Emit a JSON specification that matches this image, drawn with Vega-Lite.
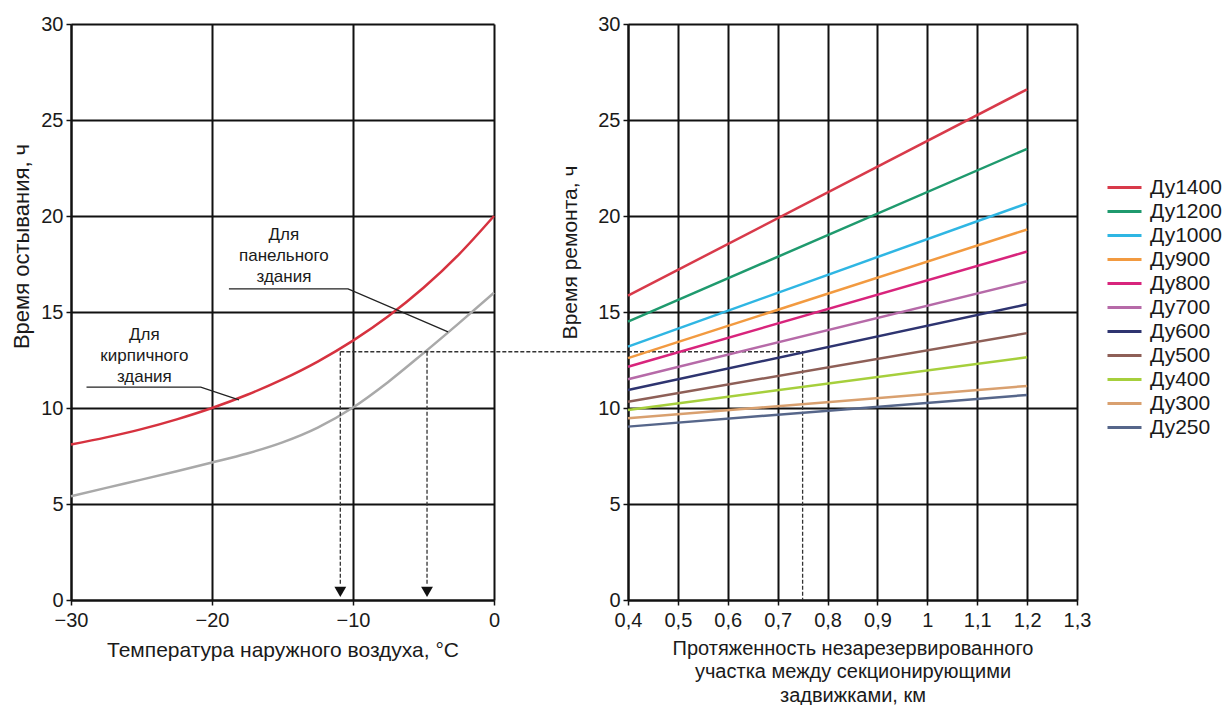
{
  "$schema": "https://vega.github.io/schema/vega-lite/v6.json",
  "background": "white",
  "padding": {"left": 10, "top": 14, "right": 0, "bottom": 0},
  "bounds": "flush",
  "spacing": 134,
  "datasets": {
    "curves": [
      {"t": -30, "h": 8.1, "b": "brick"}, {"t": -27.5, "h": 8.47, "b": "brick"}, {"t": -25, "h": 8.9, "b": "brick"},
      {"t": -22.5, "h": 9.41, "b": "brick"}, {"t": -20, "h": 10.0, "b": "brick"}, {"t": -17.5, "h": 10.69, "b": "brick"},
      {"t": -15, "h": 11.49, "b": "brick"}, {"t": -12.5, "h": 12.42, "b": "brick"}, {"t": -10, "h": 13.51, "b": "brick"},
      {"t": -7.5, "h": 14.78, "b": "brick"}, {"t": -5, "h": 16.26, "b": "brick"}, {"t": -2.5, "h": 17.99, "b": "brick"},
      {"t": 0, "h": 20.0, "b": "brick"},
      {"t": -30, "h": 5.4, "b": "panel"}, {"t": -27.5, "h": 5.84, "b": "panel"}, {"t": -25, "h": 6.27, "b": "panel"},
      {"t": -22.5, "h": 6.71, "b": "panel"}, {"t": -20, "h": 7.16, "b": "panel"}, {"t": -17.5, "h": 7.63, "b": "panel"},
      {"t": -15, "h": 8.21, "b": "panel"}, {"t": -12.5, "h": 8.98, "b": "panel"}, {"t": -10, "h": 10.03, "b": "panel"},
      {"t": -7.5, "h": 11.36, "b": "panel"}, {"t": -5, "h": 12.86, "b": "panel"}, {"t": -2.5, "h": 14.41, "b": "panel"},
      {"t": 0, "h": 16.0, "b": "panel"}
    ],
    "leaders": [
      {"t": -18.8, "h": 16.2, "g": "panel", "o": 1}, {"t": -10.35, "h": 16.2, "g": "panel", "o": 2}, {"t": -3.26, "h": 13.96, "g": "panel", "o": 3},
      {"t": -28.9, "h": 11.09, "g": "brick", "o": 1}, {"t": -20.8, "h": 11.09, "g": "brick", "o": 2}, {"t": -18.09, "h": 10.42, "g": "brick", "o": 3}
    ],
    "notes": [
      {"t": -14.9, "h": 19.0, "label": "Для\nпанельного\nздания"},
      {"t": -24.8, "h": 13.8, "label": "Для\nкирпичного\nздания"}
    ],
    "dashL": [
      {"x": -10.9, "x2": 9.5, "y": 12.93, "y2": 12.93},
      {"x": -10.9, "x2": -10.9, "y": 12.93, "y2": 0.8},
      {"x": -4.75, "x2": -4.75, "y": 12.93, "y2": 0.8}
    ],
    "arrows": [{"x": -10.9, "y": 0.42}, {"x": -4.75, "y": 0.42}],
    "dashR": [
      {"x": 0.4, "x2": 0.75, "y": 12.93, "y2": 12.93},
      {"x": 0.75, "x2": 0.75, "y": 12.93, "y2": 0}
    ],
    "pipes": [
      {"L": 0.4, "h": 15.85, "d": "Ду1400"}, {"L": 1.2, "h": 26.6, "d": "Ду1400"},
      {"L": 0.4, "h": 14.5, "d": "Ду1200"}, {"L": 1.2, "h": 23.5, "d": "Ду1200"},
      {"L": 0.4, "h": 13.2, "d": "Ду1000"}, {"L": 1.2, "h": 20.66, "d": "Ду1000"},
      {"L": 0.4, "h": 12.6, "d": "Ду900"}, {"L": 1.2, "h": 19.3, "d": "Ду900"},
      {"L": 0.4, "h": 12.15, "d": "Ду800"}, {"L": 1.2, "h": 18.15, "d": "Ду800"},
      {"L": 0.4, "h": 11.5, "d": "Ду700"}, {"L": 1.2, "h": 16.6, "d": "Ду700"},
      {"L": 0.4, "h": 10.94, "d": "Ду600"}, {"L": 1.2, "h": 15.4, "d": "Ду600"},
      {"L": 0.4, "h": 10.33, "d": "Ду500"}, {"L": 1.2, "h": 13.9, "d": "Ду500"},
      {"L": 0.4, "h": 9.9, "d": "Ду400"}, {"L": 1.2, "h": 12.64, "d": "Ду400"},
      {"L": 0.4, "h": 9.46, "d": "Ду300"}, {"L": 1.2, "h": 11.15, "d": "Ду300"},
      {"L": 0.4, "h": 9.03, "d": "Ду250"}, {"L": 1.2, "h": 10.68, "d": "Ду250"}
    ]
  },
  "config": {
    "view": {"stroke": null},
    "font": "Liberation Sans",
    "axis": {
      "grid": true, "gridColor": "#111", "gridWidth": 2, "gridOpacity": 1,
      "domainColor": "#111", "domainWidth": 2, "tickColor": "#111", "tickWidth": 1.5, "tickSize": 5,
      "labelFont": "Liberation Sans", "labelFontSize": 20, "labelColor": "#1a1a1a", "labelFlush": false,
      "titleFont": "Liberation Sans", "titleFontSize": 21, "titleFontWeight": "normal", "titleColor": "#1a1a1a"
    },
    "legend": {"labelFont": "Liberation Sans"}
  },
  "resolve": {"scale": {"color": "independent"}},
  "hconcat": [
    {
      "width": 423,
      "height": 576,
      "layer": [
        {
          "data": {"name": "curves"},
          "mark": {"type": "line", "interpolate": "monotone", "strokeWidth": 2.5},
          "encoding": {
            "x": {"field": "t", "type": "quantitative", "scale": {"domain": [-30, 0], "nice": false},
              "axis": {"values": [-30, -20, -10, 0], "title": "Температура наружного воздуха, °C", "titlePadding": 9, "labelPadding": 5}},
            "y": {"field": "h", "type": "quantitative", "scale": {"domain": [0, 30], "nice": false},
              "axis": {"values": [0, 5, 10, 15, 20, 25, 30], "title": "Время остывания, ч", "titleFontSize": 22, "titleX": -38, "titleY": 222, "labelPadding": 3}},
            "color": {"field": "b", "type": "nominal", "scale": {"domain": ["brick", "panel"], "range": ["#d6323f", "#a9a9a9"]}, "legend": null}
          }
        },
        {
          "data": {"name": "leaders"},
          "mark": {"type": "line", "color": "#222", "strokeWidth": 1.3},
          "encoding": {
            "x": {"field": "t", "type": "quantitative"},
            "y": {"field": "h", "type": "quantitative"},
            "detail": {"field": "g"},
            "order": {"field": "o", "type": "quantitative"}
          }
        },
        {
          "data": {"name": "notes"},
          "mark": {"type": "text", "lineBreak": "\n", "fontSize": 17, "lineHeight": 21, "color": "#1a1a1a", "align": "center", "baseline": "middle"},
          "encoding": {
            "x": {"field": "t", "type": "quantitative"},
            "y": {"field": "h", "type": "quantitative"},
            "text": {"field": "label"}
          }
        },
        {
          "data": {"name": "dashL"},
          "mark": {"type": "rule", "color": "#333", "strokeWidth": 1.3, "strokeDash": [4, 2]},
          "encoding": {
            "x": {"field": "x", "type": "quantitative"},
            "x2": {"field": "x2"},
            "y": {"field": "y", "type": "quantitative"},
            "y2": {"field": "y2"}
          }
        },
        {
          "data": {"name": "arrows"},
          "mark": {"type": "point", "shape": "triangle-down", "filled": true, "color": "#111", "size": 140, "opacity": 1},
          "encoding": {
            "x": {"field": "x", "type": "quantitative"},
            "y": {"field": "y", "type": "quantitative"}
          }
        }
      ]
    },
    {
      "width": 449,
      "height": 576,
      "layer": [
        {
          "data": {"name": "dashR"},
          "mark": {"type": "rule", "color": "#333", "strokeWidth": 1.3, "strokeDash": [4, 2]},
          "encoding": {
            "x": {"field": "x", "type": "quantitative", "scale": {"domain": [0.4, 1.3], "nice": false},
              "axis": {"values": [0.4, 0.5, 0.6, 0.7, 0.8, 0.9, 1, 1.1, 1.2, 1.3], "labelExpr": "replace(toString(datum.value), '.', ',')",
                "title": ["Протяженность незарезервированного", "участка между секционирующими", "задвижками, км"], "titleFontSize": 20, "titleLineHeight": 23.5, "titlePadding": 8, "labelPadding": 5}},
            "x2": {"field": "x2"},
            "y": {"field": "y", "type": "quantitative", "scale": {"domain": [0, 30], "nice": false},
              "axis": {"values": [0, 5, 10, 15, 20, 25, 30], "title": "Время ремонта, ч", "titleX": -48, "titleY": 228, "labelPadding": 3}},
            "y2": {"field": "y2"}
          }
        },
        {
          "data": {"name": "pipes"},
          "mark": {"type": "line", "strokeWidth": 2.5},
          "encoding": {
            "x": {"field": "L", "type": "quantitative"},
            "y": {"field": "h", "type": "quantitative"},
            "color": {"field": "d", "type": "nominal",
              "scale": {"domain": ["Ду1400", "Ду1200", "Ду1000", "Ду900", "Ду800", "Ду700", "Ду600", "Ду500", "Ду400", "Ду300", "Ду250"],
                "range": ["#d83a4a", "#1f9a6e", "#2fb6e3", "#f29a40", "#d8247c", "#b66aa8", "#2e3470", "#8e5f57", "#a6cf3c", "#d9a06f", "#56668a"]},
              "legend": {"orient": "none", "legendX": 486, "legendY": 153, "title": null, "symbolType": "M-2,0H2", "symbolSize": 289, "symbolStrokeWidth": 3,
                "labelFontSize": 21, "labelColor": "#1a1a1a", "rowPadding": 2, "labelOffset": 15}}
          }
        }
      ]
    }
  ]
}
